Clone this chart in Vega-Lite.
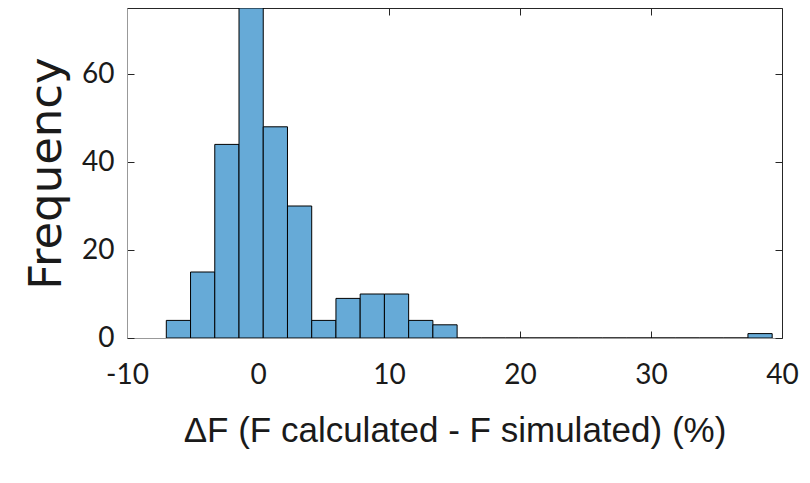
{
  "$schema": "https://vega.github.io/schema/vega-lite/v6.json",
  "autosize": {"type": "none"},
  "padding": {"left": 127, "top": 8, "right": 28, "bottom": 145},
  "width": 655,
  "height": 330,
  "background": "white",
  "config": {"view": {"stroke": null}},
  "data": {"values": [
    {"bin_start": -7.00, "bin_end": -5.15, "count": 4},
    {"bin_start": -5.15, "bin_end": -3.30, "count": 15},
    {"bin_start": -3.30, "bin_end": -1.45, "count": 44},
    {"bin_start": -1.45, "bin_end": 0.40, "count": 75},
    {"bin_start": 0.40, "bin_end": 2.25, "count": 48},
    {"bin_start": 2.25, "bin_end": 4.10, "count": 30},
    {"bin_start": 4.10, "bin_end": 5.95, "count": 4},
    {"bin_start": 5.95, "bin_end": 7.80, "count": 9},
    {"bin_start": 7.80, "bin_end": 9.65, "count": 10},
    {"bin_start": 9.65, "bin_end": 11.50, "count": 10},
    {"bin_start": 11.50, "bin_end": 13.35, "count": 4},
    {"bin_start": 13.35, "bin_end": 15.20, "count": 3},
    {"bin_start": 15.20, "bin_end": 17.05, "count": 0},
    {"bin_start": 17.05, "bin_end": 18.90, "count": 0},
    {"bin_start": 18.90, "bin_end": 20.75, "count": 0},
    {"bin_start": 20.75, "bin_end": 22.60, "count": 0},
    {"bin_start": 22.60, "bin_end": 24.45, "count": 0},
    {"bin_start": 24.45, "bin_end": 26.30, "count": 0},
    {"bin_start": 26.30, "bin_end": 28.15, "count": 0},
    {"bin_start": 28.15, "bin_end": 30.00, "count": 0},
    {"bin_start": 30.00, "bin_end": 31.85, "count": 0},
    {"bin_start": 31.85, "bin_end": 33.70, "count": 0},
    {"bin_start": 33.70, "bin_end": 35.55, "count": 0},
    {"bin_start": 35.55, "bin_end": 37.40, "count": 0},
    {"bin_start": 37.40, "bin_end": 39.25, "count": 1}
  ]},
  "resolve": {"axis": {"x": "independent", "y": "independent"}},
  "layer": [
    {
      "mark": {"type": "bar", "fill": "#66aad7", "stroke": "#000000", "strokeWidth": 1, "clip": true},
      "encoding": {
        "x": {"field": "bin_start", "type": "quantitative",
          "scale": {"domain": [-10, 40], "nice": false, "zero": false},
          "axis": {"orient": "bottom", "values": [-10, 0, 10, 20, 30, 40], "grid": false,
            "labelExpr": "'' + datum.value", "labelFlush": false,
            "tickSize": -7, "tickColor": "#262626", "domainColor": "#999999",
            "labelFont": "Lato", "labelFontSize": 28, "labelColor": "#1a1a1a", "labelPadding": 30,
            "title": "ΔF (F calculated - F simulated) (%)", "titleFont": "Liberation Sans",
            "titleFontSize": 35, "titleFontWeight": "normal", "titleColor": "#1a1a1a", "titlePadding": 24}},
        "x2": {"field": "bin_end"},
        "y": {"field": "count", "type": "quantitative",
          "scale": {"domain": [0, 75], "nice": false},
          "axis": {"orient": "left", "values": [0, 20, 40, 60], "grid": false, "labelFlush": false,
            "tickSize": -7, "tickColor": "#262626", "domainColor": "#999999",
            "labelFont": "Lato", "labelFontSize": 28, "labelColor": "#1a1a1a", "labelPadding": 20,
            "title": "Frequency", "titleFont": "DejaVu Sans", "titleFontSize": 45,
            "titleFontWeight": "normal", "titleColor": "#1a1a1a", "titlePadding": 12}},
        "y2": {"datum": 0}
      }
    },
    {
      "mark": {"type": "point", "opacity": 0},
      "encoding": {
        "x": {"field": "bin_start", "type": "quantitative",
          "axis": {"orient": "top", "values": [-10, 0, 10, 20, 30, 40], "grid": false, "labels": false,
            "tickSize": -7, "tickColor": "#262626", "domainColor": "#262626", "title": null}},
        "y": {"field": "count", "type": "quantitative",
          "axis": {"orient": "right", "values": [0, 20, 40, 60], "grid": false, "labels": false,
            "tickSize": -7, "tickColor": "#262626", "domainColor": "#262626", "title": null}}
      }
    }
  ]
}
